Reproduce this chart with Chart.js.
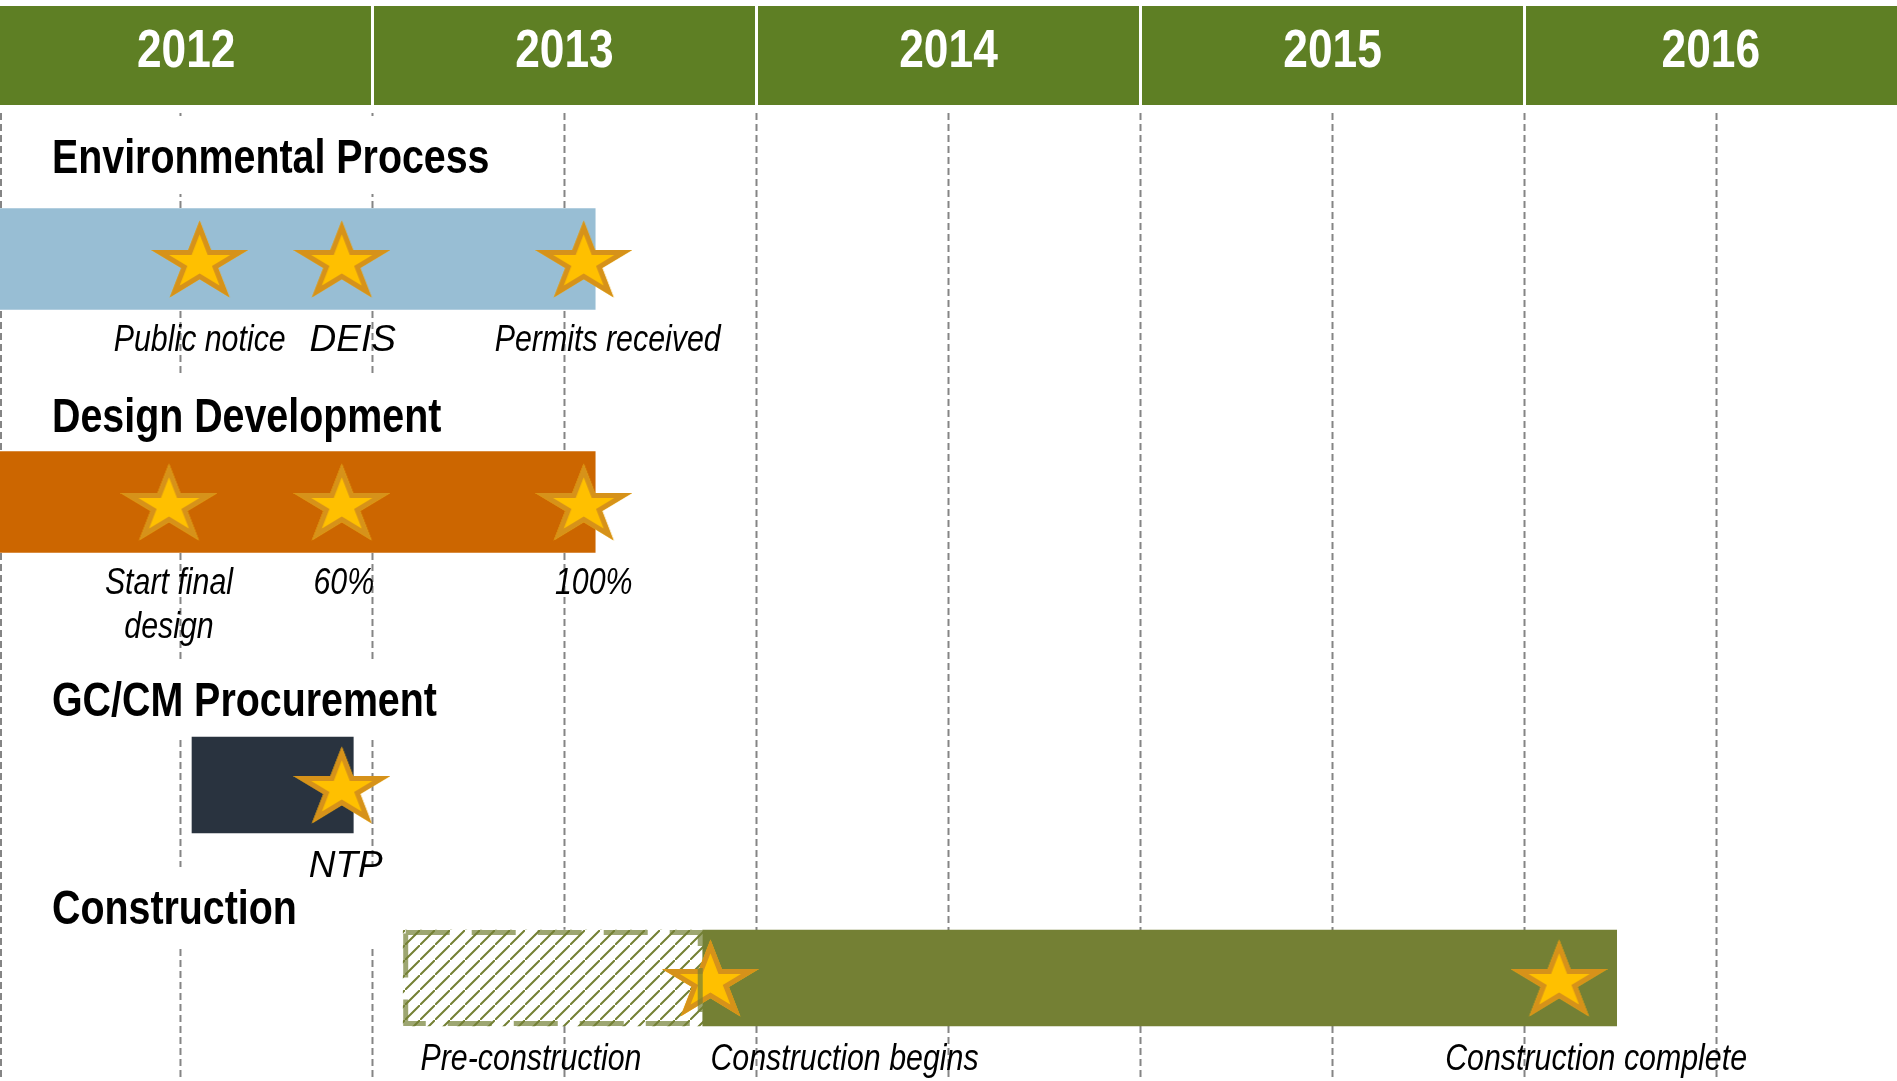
<!DOCTYPE html>
<html>
<head>
<meta charset="utf-8">
<script src="https://cdn.jsdelivr.net/npm/chart.js@4.4.1/dist/chart.umd.min.js"></script>
<style>
  html, body { margin: 0; padding: 0; background: #fff; }
  #wrap { width: 1897px; height: 1081px; position: relative; }
</style>
</head>
<body>
<div id="wrap"><canvas id="timelineChart"></canvas></div>
<script>
// header years
const years = [2012, 2013, 2014, 2015, 2016];

// one row per phase
const phases = ['Environmental Process', 'Design Development', 'GC/CM Procurement', 'Construction'];

// bars (decimal years)
const barPhase = [0, 1, 2, 3, 3];
const barStart = [2011.9, 2011.9, 2012.53, 2013.08, 2013.86];
const barEnd = [2013.58, 2013.58, 2012.95, 2013.86, 2016.24];
const barNote = ['', '', '', 'Pre-construction', ''];

// milestones (stars)
const milestonePhase = [0, 0, 0, 1, 1, 1, 2, 3, 3];
const milestoneDate = [2012.55, 2012.92, 2013.55, 2012.47, 2012.92, 2013.55, 2012.92, 2013.88, 2016.09];
const milestoneLabel = ['Public notice', 'DEIS', 'Permits received', ['Start final', 'design'], '60%', '100%', 'NTP', 'Construction begins', 'Construction complete'];

// styling
const barColors = ['#98BED4', '#CC6600', '#29333F', 'hatch', '#748034'];
const barHeight = [101, 101, 96, 96];
const rowWeight = [198, 288, 278, 108];
const titleRise = [86, 70, 69, 54];
const labelAlign = ['center', 'center', 'center', 'center', 'center', 'center', 'center', 'left', 'center'];
const labelShift = [0, 11, 24, 0, 2, 10, 4, 0, 37];
const labelWide = [false, true, false, false, false, false, true, false, false];
const noteShift = [0, 0, 0, -22, 0];

const FONT = '"Liberation Sans", Arial, sans-serif';
const NARROW = 0.82;

// Arial Narrow look: Liberation Sans squeezed horizontally
function drawText(ctx, txt, x, y, font, align, squeeze) {
    ctx.save();
    ctx.font = font;
    ctx.textAlign = align;
    ctx.textBaseline = 'alphabetic';
    ctx.translate(x, y);
    ctx.scale(squeeze, 1);
    ctx.fillText(txt, 0, 0);
    ctx.restore();
}

function makeStar() {
    const w = 97, h = 78;
    const c = document.createElement('canvas');
    c.width = w; c.height = h;
    const g = c.getContext('2d');
    const rx = w / 1.902, ry = (h - 1) / 1.809;
    const cx = w / 2, cy = 0.5 + ry;
    g.beginPath();
    for (let i = 0; i < 10; i++) {
        const r = i % 2 === 0 ? 1 : 0.382;
        const a = -Math.PI / 2 + i * Math.PI / 5;
        const px = cx + Math.cos(a) * rx * r;
        const py = cy + Math.sin(a) * ry * r;
        if (i === 0) g.moveTo(px, py); else g.lineTo(px, py);
    }
    g.closePath();
    g.fillStyle = '#FFC000';
    g.fill();
    g.save();
    g.clip();
    g.lineJoin = 'miter';
    g.miterLimit = 20;
    g.lineWidth = 10;
    g.strokeStyle = '#D6921A';
    g.stroke();
    g.restore();
    return c;
}

function makeHatch() {
    const s = 15;
    const c = document.createElement('canvas');
    c.width = s; c.height = s;
    const g = c.getContext('2d');
    g.fillStyle = '#fff';
    g.fillRect(0, 0, s, s);
    g.strokeStyle = '#748034';
    g.lineWidth = 2;
    g.beginPath();
    g.moveTo(-3, s + 3); g.lineTo(s + 3, -3);
    g.moveTo(-s - 3, 3); g.lineTo(3, -s - 3);
    g.moveTo(s - 3, 2 * s + 3); g.lineTo(2 * s + 3, s - 3);
    g.stroke();
    return g.createPattern(c, 'repeat');
}

const starImg = makeStar();
const hatch = makeHatch();

const ganttDecor = {
    id: 'ganttDecor',
    beforeDatasetsDraw(chart) {
        const {ctx, chartArea} = chart;
        const x = chart.scales.x;
        const H = chart.height;
        ctx.save();
        // header band
        ctx.fillStyle = '#5E7F24';
        ctx.fillRect(0, 6, chart.width, 99);
        ctx.fillStyle = '#fff';
        years.forEach(yr => {
            const l = Math.max(chartArea.left, x.getPixelForValue(yr));
            const r = Math.min(chartArea.right, x.getPixelForValue(yr + 1));
            drawText(ctx, String(yr), (l + r) / 2, 67, 'bold 54px ' + FONT, 'center', NARROW);
            if (l > chartArea.left + 2) ctx.fillRect(l - 1.5, 6, 3, 99);
        });
        // dashed half-year grid
        ctx.strokeStyle = '#858585';
        ctx.lineWidth = 2;
        ctx.setLineDash([7, 4]);
        const lines = [chartArea.left + 1];
        years.forEach(yr => {
            [yr, yr + 0.5].forEach(v => {
                const px = x.getPixelForValue(v);
                if (px > chartArea.left + 4 && px < chartArea.right - 4) lines.push(px);
            });
        });
        lines.forEach(px => {
            ctx.beginPath();
            ctx.moveTo(px, 113);
            ctx.lineTo(px, H);
            ctx.stroke();
        });
        ctx.setLineDash([]);
        // phase titles on white boxes
        phases.forEach((name, i) => {
            const yc = chart.scales['row' + i].getPixelForValue(0);
            const base = yc - titleRise[i];
            ctx.fillStyle = '#fff';
            ctx.fillRect(4, base - 57, 526, 78);
            ctx.fillStyle = '#000';
            drawText(ctx, name, 52, base, 'bold 48px ' + FONT, 'left', NARROW);
        });
        ctx.restore();
    },
    afterDatasetsDraw(chart) {
        const {ctx} = chart;
        ctx.save();
        ctx.fillStyle = '#000';
        // bar borders and notes
        const seen = [0, 0, 0, 0];
        barPhase.forEach((p, b) => {
            const el = chart.getDatasetMeta(p).data[seen[p]++];
            const {x, y, base, height} = el.getProps(['x', 'y', 'base', 'height'], true);
            const left = Math.min(x, base), right = Math.max(x, base);
            if (barColors[b] === 'hatch') {
                ctx.strokeStyle = 'rgba(116,128,52,0.7)';
                ctx.lineWidth = 5;
                ctx.setLineDash([44, 22]);
                ctx.strokeRect(left + 2.5, y - height / 2 + 2.5, right - left - 5, height - 5);
                ctx.setLineDash([]);
            }
            if (barNote[b]) {
                drawText(ctx, barNote[b], (left + right) / 2 + noteShift[b], y + 92, 'italic 37px ' + FONT, 'center', NARROW);
            }
        });
        // milestone labels
        milestoneLabel.forEach((txt, m) => {
            const pt = chart.getDatasetMeta(phases.length + m).data[0];
            const rows = Array.isArray(txt) ? txt : [txt];
            rows.forEach((ln, k) => {
                drawText(ctx, ln, pt.x + labelShift[m], pt.y + 92 + k * 44, 'italic 37px ' + FONT,
                    labelAlign[m], labelWide[m] ? 1 : NARROW);
            });
        });
        ctx.restore();
    }
};

// datasets: one bar set per phase, one star per milestone
const datasets = [];
phases.forEach((name, p) => {
    const idx = barPhase.map((ph, b) => ph === p ? b : -1).filter(b => b >= 0);
    datasets.push({
        type: 'bar',
        indexAxis: 'y',
        yAxisID: 'row' + p,
        data: idx.map(b => ({x: [barStart[b], barEnd[b]], y: name})),
        backgroundColor: idx.map(b => barColors[b] === 'hatch' ? hatch : barColors[b]),
        borderWidth: 0,
        barThickness: barHeight[p],
        order: 2
    });
});
milestoneDate.forEach((d, m) => {
    datasets.push({
        type: 'scatter',
        yAxisID: 'row' + milestonePhase[m],
        data: [{x: d, y: phases[milestonePhase[m]]}],
        pointStyle: starImg,
        pointRadius: 10,
        showLine: false,
        clip: false,
        order: 1
    });
});

const scales = {
    x: {
        type: 'linear', position: 'bottom', min: 2012.03, max: 2016.97,
        offset: false, grid: {display: false, offset: false}, ticks: {display: false},
        border: {display: false}, display: false
    }
};
phases.forEach((name, p) => {
    scales['row' + p] = {
        type: 'category',
        axis: 'y',
        labels: [name],
        offset: true,
        position: 'right',
        stack: 'rows',
        stackWeight: rowWeight[p],
        display: false
    };
});

const ctx = document.getElementById('timelineChart').getContext('2d');
const chart = new Chart(ctx, {
    type: 'bar',
    data: {datasets: datasets},
    options: {
        responsive: true,
        maintainAspectRatio: false,
        animation: false,
        events: [],
        layout: {autoPadding: false, padding: {top: 160, bottom: 49, left: 0, right: 0}},
        plugins: {legend: {display: false}, tooltip: {enabled: false}},
        scales: scales
    },
    plugins: [ganttDecor]
});
</script>
</body>
</html>
